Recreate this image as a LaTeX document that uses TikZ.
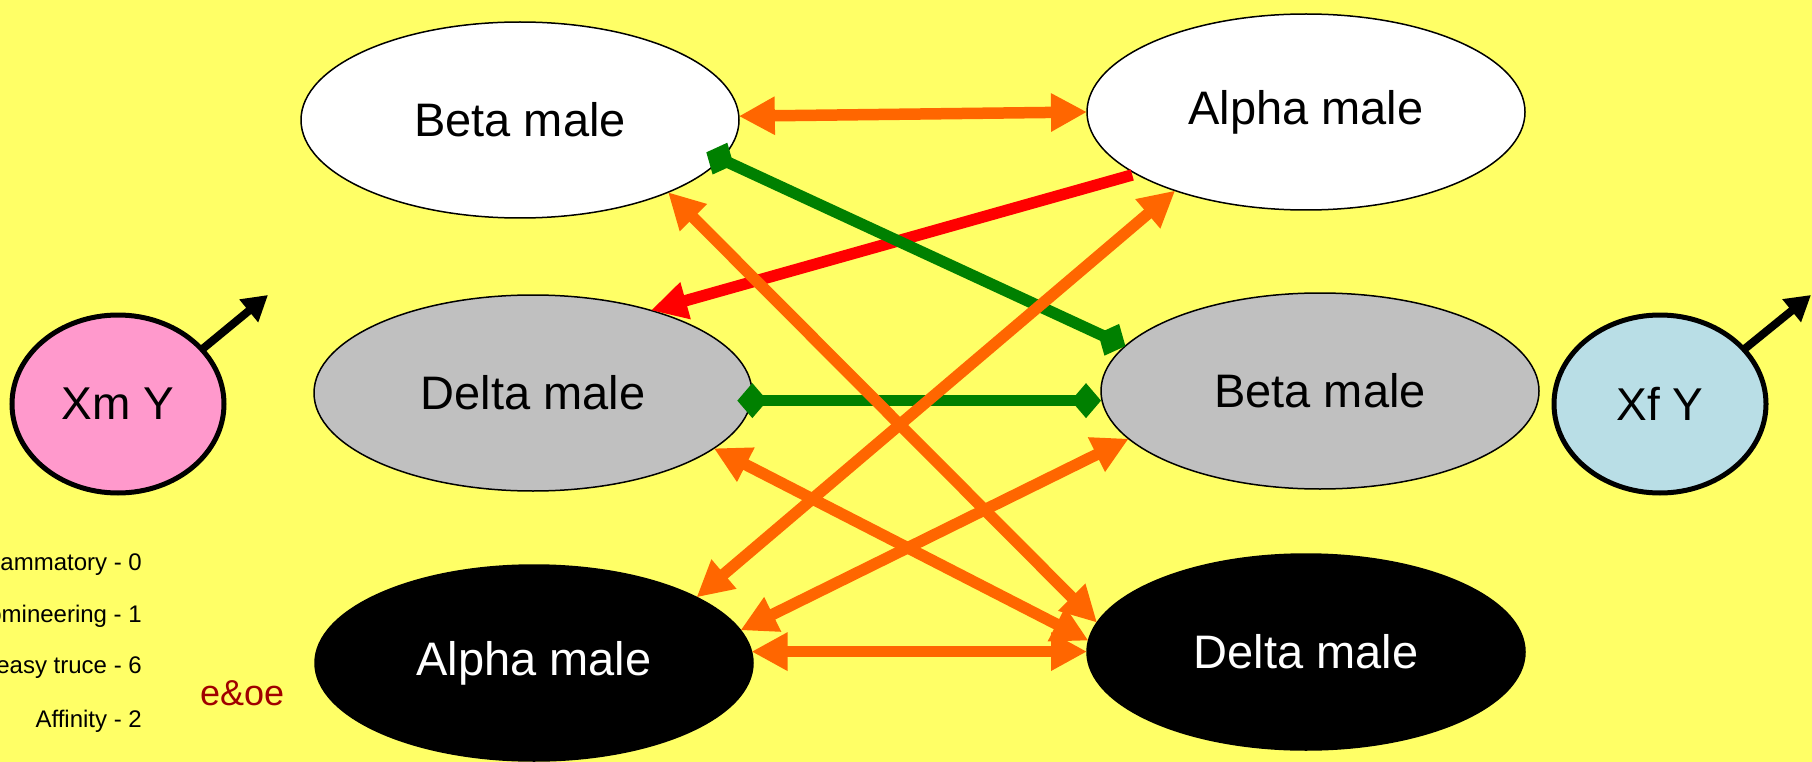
\documentclass[tikz,border=0pt]{standalone}
\usepackage{fontspec}
\setmainfont{Liberation Sans}
\usetikzlibrary{arrows.meta,shapes.geometric,calc}
\definecolor{bgyellow}{RGB}{255,255,102}
\definecolor{orng}{RGB}{255,102,0}
\definecolor{grn}{RGB}{0,128,0}
\definecolor{pinkc}{RGB}{255,153,204}
\definecolor{bluec}{RGB}{185,222,230}
\definecolor{greyc}{RGB}{192,192,192}
\definecolor{eoered}{RGB}{160,0,0}
\tikzset{
  malebox/.style={ellipse, draw=black, line width=1.5pt, minimum width=438pt, minimum height=196pt,
    inner sep=0pt, outer sep=0pt, font=\fontsize{47}{50}\selectfont},
  whitebox/.style={malebox, fill=white},
  greybox/.style={malebox, fill=greyc},
  blackbox/.style={malebox, fill=black, text=white},
  genebox/.style={ellipse, draw=black, line width=5pt, minimum width=212pt, minimum height=178pt,
    inner sep=0pt, outer sep=0pt, font=\fontsize{46}{50}\selectfont},
  orangelink/.style={draw=orng, line width=11.5pt, {Triangle[length=36pt,width=36pt]}-{Triangle[length=36pt,width=36pt]}},
  redlink/.style={draw=red, line width=11.5pt, -{Triangle[length=36pt,width=36pt]}},
  greenlink/.style={draw=grn, line width=11.5pt, {Diamond[length=30pt,width=35pt]}-{Diamond[length=30pt,width=35pt]}},
  malearrow/.style={draw=black, line width=8pt, -{Triangle[length=25pt,width=28pt]}},
  legend/.style={anchor=base east, inner sep=0pt, font=\fontsize{24}{28}\selectfont},
}
\begin{document}
\begin{tikzpicture}[x=1pt,y=-1pt]
\useasboundingbox (0,0) rectangle (1812,762);
\clip (0,0) rectangle (1812,762);
\fill[bgyellow] (0,0) rectangle (1812,762);

% male nodes
\node[whitebox] (betaTL) at (520,120) {Beta male};
\node[whitebox] (alphaTR) at (1306,112) {Alpha male};
\node[greybox] (deltaML) at (533,393) {Delta male};
\node[greybox] (betaMR) at (1320,391) {Beta male};
\node[blackbox] (alphaBL) at (534,663) {Alpha male};
\node[blackbox] (deltaBR) at (1306,652) {Delta male};

% genotype circles
\node[genebox, fill=pinkc] (xm) at (118,404) {Xm Y};
\node[genebox, fill=bluec] (xf) at (1660,404) {Xf Y};
\coordinate (xmtip) at (268,295);
\coordinate (xftip) at (1811,295);
\draw[malearrow] (xm.33.7) -- (xmtip);
\draw[malearrow] (xf.33) -- (xftip);

% connectors
\draw[orangelink] (betaTL.1.6) -- (alphaTR.180);
\draw[redlink, shorten <=4pt] (alphaTR.200) -- (deltaML.35.3);
\draw[greenlink, shorten <=-16pt] (betaTL.-11) -- (betaMR.167);
\draw[greenlink, shorten <=-14pt] (deltaML.-2) -- (deltaML.-2 -| betaMR.west);
\draw[orangelink] (betaTL.-26.1) -- (deltaBR.172.2);
\draw[orangelink] (alphaTR.211.2) -- (alphaBL.22.85);
\draw[orangelink] (deltaML.-17.3) -- (deltaBR.177.7);
\draw[orangelink] (betaMR.194.5) -- (alphaBL.9.96);
\draw[orangelink] (alphaBL.3) -- (alphaBL.3 -| deltaBR.west);

% legend
\node[legend] (l0) at (142,570) {Inflammatory - 0};
\node[legend] (l1) at (142,622) {Domineering - 1};
\node[legend] (l2) at (142,673) {Uneasy truce - 6};
\node[legend] (l3) at (142,727) {Affinity - 2};
\node[anchor=base west, inner sep=0pt, text=eoered, font=\fontsize{36}{40}\selectfont] (eoe) at (200,705) {e\&oe};
\end{tikzpicture}
\end{document}
